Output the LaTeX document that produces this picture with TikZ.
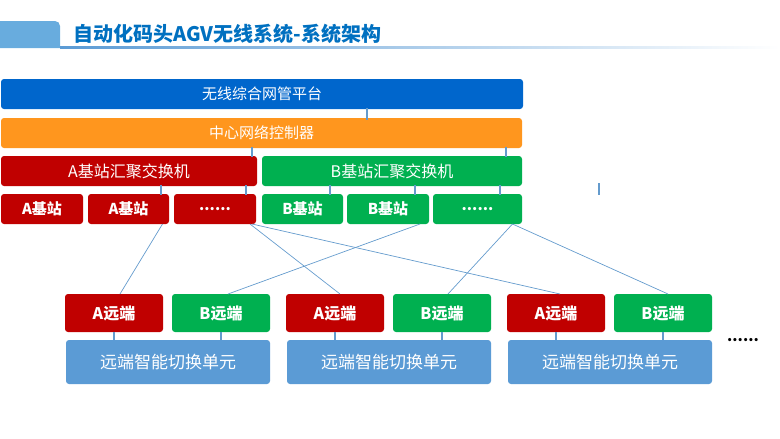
\documentclass[tikz,border=0pt]{standalone}
\usepackage{fontspec}
\newfontfamily\cjk{Noto Sans CJK SC}
\usepackage{tikz}
\definecolor{titleblue}{RGB}{0,112,192}
\definecolor{tabblue}{RGB}{104,172,222}
\definecolor{nmsblue}{RGB}{0,102,204}
\definecolor{ctrlorange}{RGB}{255,150,30}
\definecolor{netred}{RGB}{192,0,0}
\definecolor{netgreen}{RGB}{0,176,80}
\definecolor{unitblue}{RGB}{91,155,213}
\definecolor{wireblue}{RGB}{100,155,205}
\tikzset{
  box/.style={rectangle, rounded corners=3pt, inner sep=0pt, outer sep=0pt,
    minimum height=30pt, text=white, font=\cjk\fontsize{15}{15}\selectfont},
  switchbox/.style={box, font=\cjk\fontsize{16}{16}\selectfont},
  stationbox/.style={box, font=\cjk\bfseries\fontsize{15}{15}\selectfont},
  remotebox/.style={box, minimum width=98pt, minimum height=38pt,
    font=\cjk\bfseries\fontsize{16}{16}\selectfont},
  unitbox/.style={box, fill=unitblue, minimum width=204pt, minimum height=44pt,
    font=\cjk\fontsize{17}{17}\selectfont},
  tick/.style={draw=wireblue, line width=1.6pt},
  wire/.style={draw=wireblue, line width=0.7pt}
}

\begin{document}
\begin{tikzpicture}[x=1pt, y=-1pt]
			%%%%% TITLE %%%%%
			\useasboundingbox (0, 0) rectangle (780, 439);
			
			\fill[tabblue] (0, 48) -- (0, 21) [rounded corners=5pt] -- (60, 21) [sharp corners] -- (60, 48) -- cycle;
			\shade[left color=unitblue, right color=white] (60, 46.5) rectangle (780, 48.5);
			\node[anchor=west, text=titleblue, font=\cjk\bfseries\fontsize{20}{20}\selectfont] (title) at (70, 34) {自动化码头AGV无线系统-系统架构};
			
			%%%%% CORE %%%%%
			\node[box, fill=nmsblue, minimum width=522pt] (nms) at (262, 94) {无线综合网管平台};
			\node[box, fill=ctrlorange, minimum width=521pt] (ctrl) at (261.5, 133) {中心网络控制器};
			\node[switchbox, fill=netred, minimum width=256pt] (aswitch) at (129, 171) {A基站汇聚交换机};
			\node[switchbox, fill=netgreen, minimum width=260pt] (bswitch) at (392, 171) {B基站汇聚交换机};
			
			%%%%% BASE STATIONS %%%%%
			\node[stationbox, fill=netred, minimum width=82pt] (as1) at (42, 209) {A基站};
			\node[stationbox, fill=netred, minimum width=81pt] (as2) at (128.5, 209) {A基站};
			\node[stationbox, fill=netred, minimum width=82pt] (as3) at (215, 209) {......};
			\node[stationbox, fill=netgreen, minimum width=81pt] (bs1) at (302.5, 209) {B基站};
			\node[stationbox, fill=netgreen, minimum width=82pt] (bs2) at (388, 209) {B基站};
			\node[stationbox, fill=netgreen, minimum width=89pt] (bs3) at (477.5, 209) {......};
			
			%%%%% REMOTES %%%%%
			\node[remotebox, fill=netred] (ra1) at (114, 313) {A远端};
			\node[remotebox, fill=netgreen] (rb1) at (221, 313) {B远端};
			\node[unitbox] (u1) at (168, 362) {远端智能切换单元};
			
			\node[remotebox, fill=netred] (ra2) at (335, 313) {A远端};
			\node[remotebox, fill=netgreen] (rb2) at (442, 313) {B远端};
			\node[unitbox] (u2) at (389, 362) {远端智能切换单元};
			
			\node[remotebox, fill=netred] (ra3) at (556, 313) {A远端};
			\node[remotebox, fill=netgreen] (rb3) at (663, 313) {B远端};
			\node[unitbox] (u3) at (610, 362) {远端智能切换单元};
			
			\node[font=\cjk\bfseries\fontsize{15}{15}\selectfont] (more) at (743, 340) {......};
			
			%%%%% TICKS %%%%%
			\draw[tick] ([yshift=1pt]nms.south -| 367,0) -- ([yshift=-2pt]ctrl.north -| 367,0);
			\draw[tick] ([yshift=1pt]ctrl.south -| 252,0) -- ([yshift=-1pt]aswitch.north -| 252,0);
			\draw[tick] ([yshift=1pt]ctrl.south -| 506,0) -- ([yshift=-1pt]bswitch.north -| 506,0);
			\draw[tick] ([yshift=1pt]aswitch.south -| 161,0) -- ([yshift=-1pt]as2.north -| 161,0);
			\draw[tick] ([yshift=1pt]aswitch.south -| 246,0) -- ([yshift=-1pt]as3.north -| 246,0);
			\draw[tick] ([yshift=1pt]bswitch.south -| 330,0) -- ([yshift=-1pt]bs1.north -| 330,0);
			\draw[tick] ([yshift=1pt]bswitch.south -| 415,0) -- ([yshift=-1pt]bs2.north -| 415,0);
			\draw[tick] ([yshift=1pt]bswitch.south -| 500,0) -- ([yshift=-1pt]bs3.north -| 500,0);
			\draw[tick] (599, 183) -- (599, 195);
			
			\draw[tick] (ra1.south) -- (ra1.south |- u1.north);
			\draw[tick] (rb1.south) -- (rb1.south |- u1.north);
			\draw[tick] (ra2.south) -- (ra2.south |- u2.north);
			\draw[tick] (rb2.south) -- (rb2.south |- u2.north);
			\draw[tick] (ra3.south) -- (ra3.south |- u3.north);
			\draw[tick] (rb3.south) -- (rb3.south |- u3.north);
			
			%%%%% WIRES %%%%%
			\draw[wire] ([xshift=34pt]as2.south) -- ([xshift=6pt]ra1.north);
			\draw[wire] ([xshift=32pt]bs2.south) -- ([xshift=7pt]rb1.north);
			\draw[wire] ([xshift=35pt]as3.south) -- ([xshift=5pt]ra2.north);
			\draw[wire] ([xshift=37pt]as3.south) -- ([xshift=4pt]ra3.north);
			\draw[wire] ([xshift=35pt]bs3.south) -- ([xshift=6pt]rb2.north);
			\draw[wire] ([xshift=35pt]bs3.south) -- ([xshift=5pt]rb3.north);
			
			%%%%% END %%%%%
\end{tikzpicture}
\end{document}
